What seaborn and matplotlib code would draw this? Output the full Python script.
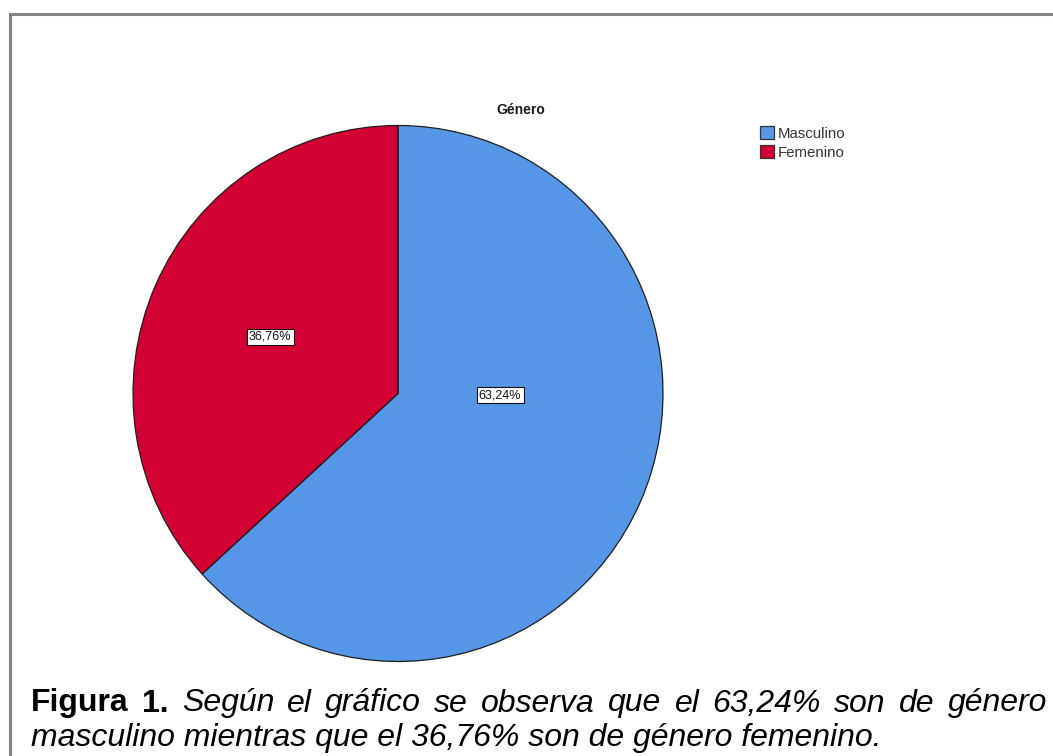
import matplotlib
matplotlib.use("Agg")
import matplotlib.pyplot as plt
from matplotlib.patches import Patch, Rectangle
import seaborn as sns

# Data
categories = ["Masculino", "Femenino"]
percentages = [63.24, 36.76]
slice_colors = ["#5596E6", "#D20032"]
chart_title = "Género"


def pct(v):
    return f"{v:.2f}".replace(".", ",") + "%"


sns.set_theme(style="white")
plt.rcParams["font.family"] = ["Liberation Sans", "DejaVu Sans"]

W, H, DPI = 1053, 756, 100
fig = plt.figure(figsize=(W / DPI, H / DPI), dpi=DPI)
fig.patch.set_facecolor("white")


def fx(px):
    return px / W


def fy(py):
    return 1 - py / H


# Outer frame (gray, running off the right and bottom edges)
fig.patches.append(Rectangle((fx(10), fy(800)), fx(1100) - fx(10), fy(14) - fy(800),
                             transform=fig.transFigure, fill=False,
                             edgecolor="#848484", linewidth=2.2, zorder=0))

# Pie axes, sized in pixels
cx, cy, rx, ry = 398, 393.5, 265, 268
ax = fig.add_axes([fx(cx - rx), fy(cy + ry), 2 * rx / W, 2 * ry / H])
wedges, _ = ax.pie(percentages, colors=slice_colors, startangle=90, counterclock=False,
                   radius=1.0,
                   wedgeprops=dict(edgecolor="#1e1e1e", linewidth=0.9))
ax.set_aspect("auto")
ax.set_xlim(-1.0, 1.0)
ax.set_ylim(-1.0, 1.0)
ax.set_axis_off()

# Percentage labels
label_pos = {"Masculino": (0.385, -0.006), "Femenino": (-0.483, 0.211)}
for cat, val in zip(categories, percentages):
    x, y = label_pos[cat]
    ax.text(x, y, pct(val), ha="center", va="center", fontsize=9, color="#111111",
            bbox=dict(boxstyle="square,pad=0.18", fc="white", ec="#111111", lw=0.8))

# Title
fig.text(fx(521), fy(110), chart_title, ha="center", va="center",
         fontsize=10, fontweight="bold", color="#1a1a1a")

# Legend
handles = [Patch(facecolor=c, edgecolor="#333333", linewidth=0.9) for c in slice_colors]
fig.legend(handles, categories, loc="upper left",
           bbox_to_anchor=(fx(760), fy(126)), bbox_transform=fig.transFigure,
           frameon=False, fontsize=10.8, handlelength=0.95, handleheight=0.95,
           handletextpad=0.25, labelspacing=0.32, borderpad=0, borderaxespad=0,
           labelcolor="#333333")

# Caption (first line justified)
cap_size = 23
line1 = [("Figura", "bold", "normal"), ("1.", "bold", "normal")]
line1 += [(w, "normal", "italic") for w in
          f"Según el gráfico se observa que el {pct(percentages[0])} son de género".split()]
line2 = f"masculino mientras que el {pct(percentages[1])} son de género femenino."

x_left, x_right = 31, 1047
base1, base2 = 711.5, 746

texts = []
for word, weight, style in line1:
    t = fig.text(0, fy(base1), word, fontsize=cap_size, fontweight=weight,
                 fontstyle=style, ha="left", va="baseline", color="black")
    texts.append(t)
fig.canvas.draw()
renderer = fig.canvas.get_renderer()
widths = [t.get_window_extent(renderer).width for t in texts]
gap = (x_right - x_left - sum(widths)) / (len(texts) - 1)
xpos = x_left
for t, w in zip(texts, widths):
    t.set_x(fx(xpos))
    xpos += w + gap

fig.text(fx(x_left), fy(base2), line2, fontsize=cap_size, fontstyle="italic",
         ha="left", va="baseline", color="black")

fig.savefig("out.png", dpi=DPI, facecolor="white")
